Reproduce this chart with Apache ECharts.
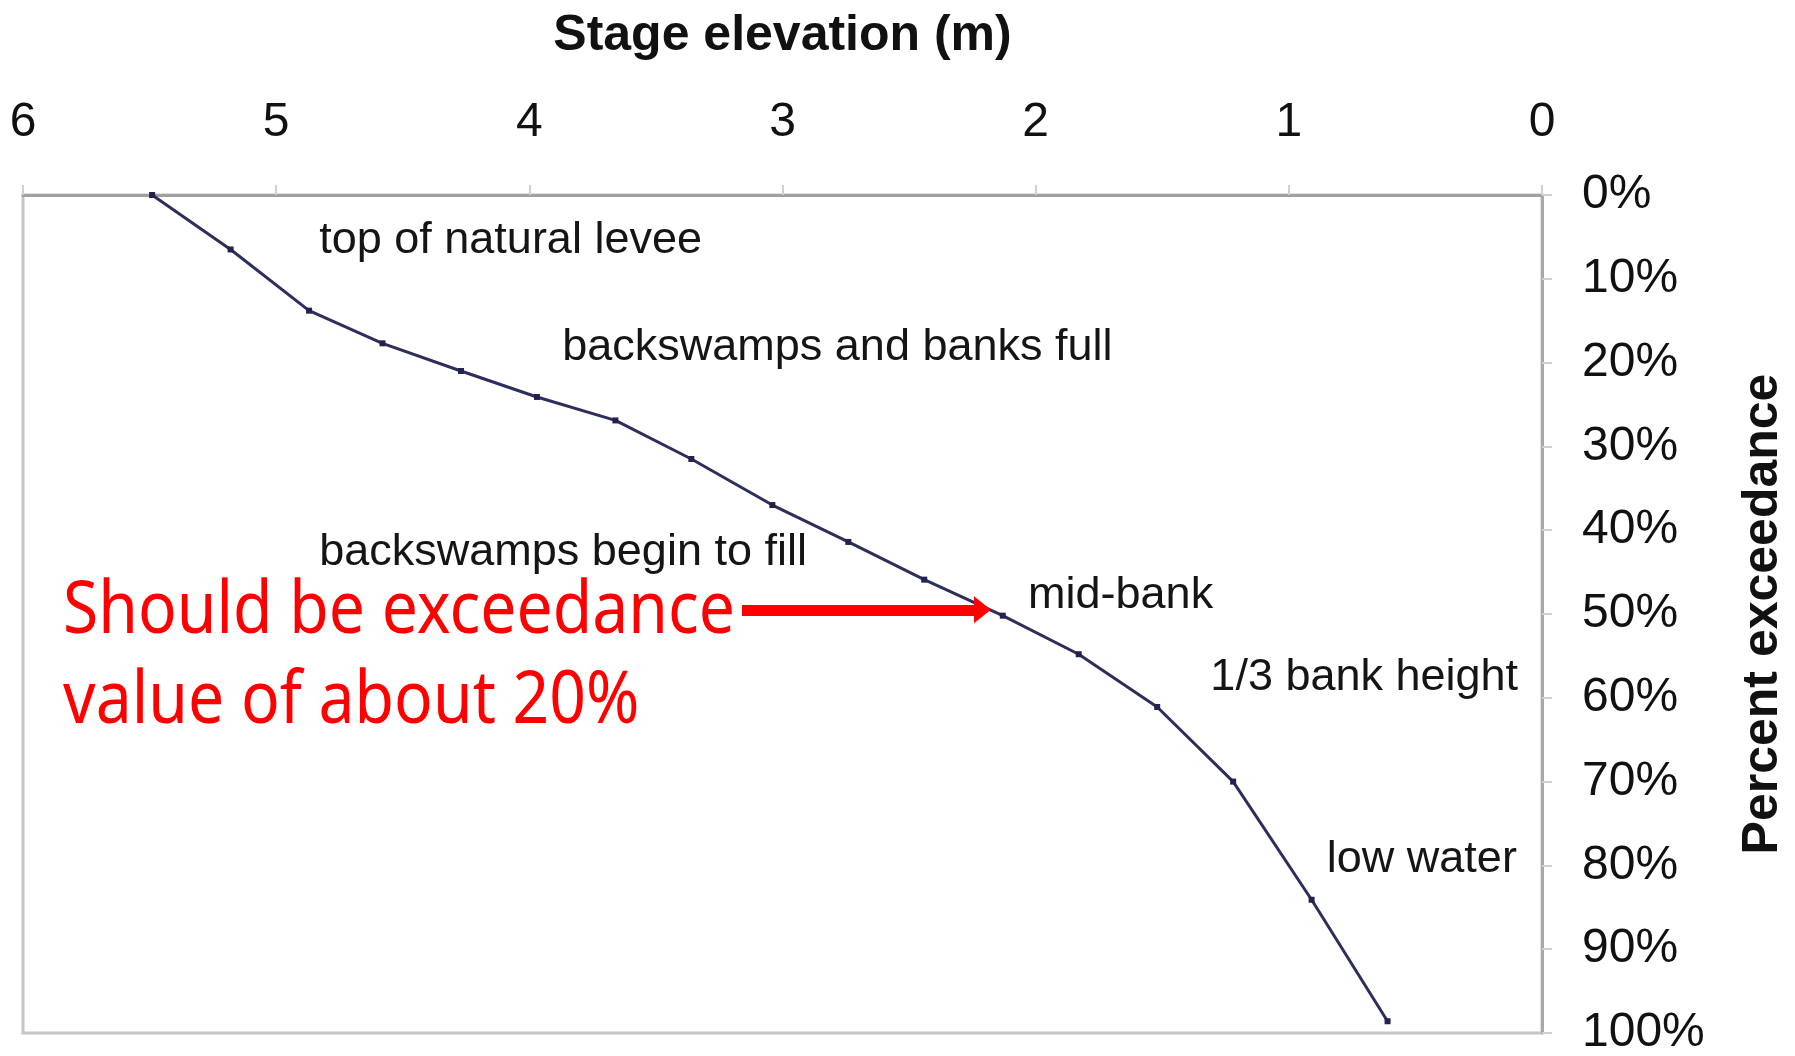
<!DOCTYPE html>
<html>
<head>
<meta charset="utf-8">
<title>Stage elevation vs percent exceedance</title>
<script src="https://cdn.jsdelivr.net/npm/echarts@6/dist/echarts.min.js"></script>
<style>
  html, body { margin: 0; padding: 0; background: #fff; }
  #chart { width: 1795px; height: 1056px; }
</style>
</head>
<body>
<div id="chart"></div>
<script>
// stage elevation (m) and percent exceedance
const elevation = [5.49, 5.18, 4.87, 4.58, 4.27, 3.97, 3.66, 3.36, 3.04, 2.74, 2.44, 2.13, 1.83, 1.52, 1.22, 0.91, 0.61]
const exceedance = [0, 6.5, 13.8, 17.7, 21.0, 24.1, 26.9, 31.5, 37.0, 41.4, 45.9, 50.2, 54.8, 61.1, 70.0, 84.1, 98.6]

// notes along the curve (left edge of text, in axis units)
const noteTexts = ['top of natural levee', 'backswamps and banks full', 'backswamps begin to fill', 'mid-bank', '1/3 bank height', 'low water']
const noteElev = [4.83, 3.87, 4.83, 2.03, 1.31, 0.85]
const noteExc = [5.4, 18.2, 42.7, 47.8, 57.6, 79.3]

// red correction note and its arrow
const redNote = ['Should be exceedance', 'value of about 20%']
const arrowFrom = [3.16, 49.5]
const arrowTo = [2.21, 49.5]

const xTicks = [0, 1, 2, 3, 4, 5, 6]

const chart = echarts.init(document.getElementById('chart'), null, { renderer: 'canvas' })

const labelFont = 'Liberation Sans, Arial, sans-serif'

chart.setOption({
  animation: false,
  backgroundColor: '#ffffff',
  grid: {
    left: 23, right: 253, top: 195, bottom: 23,
    containLabel: false,
    outerBoundsMode: 'none',
    show: true,
    borderColor: '#c6c6c6',
    borderWidth: 3,
    backgroundColor: 'transparent',
  },
  xAxis: {
    type: 'value',
    position: 'top',
    inverse: true,
    min: xTicks[0], max: xTicks[xTicks.length - 1], interval: 1,
    name: 'Stage elevation (m)',
    nameLocation: 'middle',
    nameGap: 134,
    nameTextStyle: { fontFamily: labelFont, fontSize: 50, fontWeight: 'bold', color: '#111' },
    axisLine: { show: true, lineStyle: { color: '#a0a0a0', width: 3 } },
    axisTick: { show: true, length: 10, lineStyle: { color: '#d0d0d0', width: 2 } },
    axisLabel: { fontFamily: labelFont, fontSize: 48, color: '#111', margin: 48 },
    splitLine: { show: false },
  },
  yAxis: {
    type: 'value',
    position: 'right',
    inverse: true,
    min: 0, max: 100, interval: 10,
    name: 'Percent exceedance',
    nameLocation: 'middle',
    nameRotate: 90,
    nameGap: 196,
    nameTextStyle: { fontFamily: labelFont, fontSize: 50, fontWeight: 'bold', color: '#111' },
    axisLine: { show: true, lineStyle: { color: '#a8a8a8', width: 3 } },
    axisTick: { show: true, length: 10, lineStyle: { color: '#d0d0d0', width: 2 } },
    axisLabel: { fontFamily: labelFont, fontSize: 48, color: '#111', margin: 40, formatter: '{value}%' },
    splitLine: { show: false },
  },
  series: [
    {
      name: 'Stage',
      type: 'line',
      data: elevation.map((e, i) => [e, exceedance[i]]),
      lineStyle: { color: '#2e2e5c', width: 3 },
      itemStyle: { color: '#22224a' },
      symbol: 'rect',
      symbolSize: 6,
      showSymbol: true,
      silent: true,
      markLine: {
        silent: true,
        animation: false,
        symbol: ['none', 'triangle'],
        symbolSize: [27, 17],
        label: { show: false },
        lineStyle: { color: '#ff0000', width: 11, type: 'solid' },
        emphasis: { disabled: true },
        data: [[{ coord: arrowFrom }, { coord: arrowTo }]],
      },
    },
    {
      name: 'Notes',
      type: 'scatter',
      silent: true,
      symbolSize: 0,
      itemStyle: { opacity: 1 },
      data: noteTexts.map((t, i) => ({ value: [noteElev[i], noteExc[i]], name: t })),
      label: {
        show: true,
        position: [0, 0],
        align: 'left',
        verticalAlign: 'middle',
        formatter: (p) => p.name,
        fontFamily: labelFont,
        fontSize: 45,
        color: '#151515',
        opacity: 1,
      },
    },
  ],
  graphic: [
    {
      type: 'text', left: 63, top: 576, scaleX: 0.88, originX: 0,
      style: { text: redNote[0], fill: '#ff0000', font: '73px "Noto Sans", "Open Sans", sans-serif' },
    },
    {
      type: 'text', left: 63, top: 666, scaleX: 0.88, originX: 0,
      style: { text: redNote[1], fill: '#ff0000', font: '73px "Noto Sans", "Open Sans", sans-serif' },
    },
  ],
})

window.addEventListener('resize', () => chart.resize())
</script>
</body>
</html>
